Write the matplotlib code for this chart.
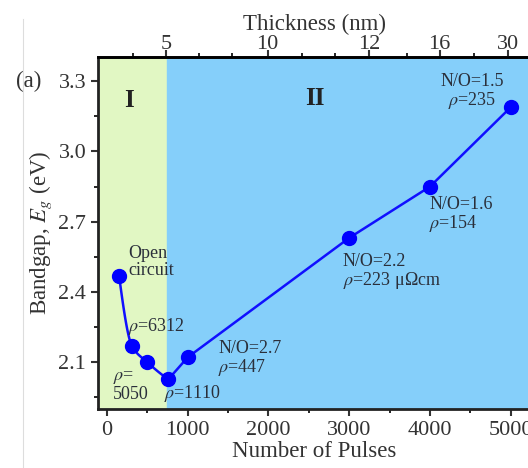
import matplotlib

matplotlib.use("Agg")

import matplotlib.pyplot as plt
import numpy as np
from matplotlib.lines import Line2D

plt.rcParams["font.family"] = ["Liberation Serif", "DejaVu Serif"]
plt.rcParams["mathtext.fontset"] = "stix"

# data
pulses = [150, 310, 500, 760, 1000, 3000, 4000, 5000]
bandgap = [2.469, 2.169, 2.10, 2.027, 2.121, 2.631, 2.85, 3.189]
n_curve = 4  # first points are joined by a smooth curve

thick_pos = [730, 1990, 3250, 4120, 4960]
thick_labels = ["5", "10", "12", "16", "30"]
thick_minor = [320, 1140, 1550, 2410, 2820, 3710, 4550]

region_edge = 740

notes = [
    ("Open\ncircuit", 265, 2.53, "left"),
    (r"$\rho$=6312", 265, 2.254, "left"),
    ("$\\rho$=\n5050", 75, 1.997, "left"),
    (r"$\rho$=1110", 710, 1.966, "left"),
    ("N/O=2.7\n$\\rho$=447", 1380, 2.113, "left"),
    ("N/O=2.2\n$\\rho$=223 \u03bc\u03a9cm", 2920, 2.486, "left"),
    ("N/O=1.6\n$\\rho$=154", 3990, 2.73, "left"),
    ("N/O=1.5\n$\\rho$=235", 4520, 3.253, "center"),
]


def pchip(x, y, xs):
    x = np.asarray(x, float)
    y = np.asarray(y, float)
    h = np.diff(x)
    d = np.diff(y) / h
    m = np.zeros_like(y)
    for k in range(1, len(x) - 1):
        if d[k - 1] * d[k] > 0:
            w1 = 2 * h[k] + h[k - 1]
            w2 = h[k] + 2 * h[k - 1]
            m[k] = (w1 + w2) / (w1 / d[k - 1] + w2 / d[k])
    m[0] = ((2 * h[0] + h[1]) * d[0] - h[0] * d[1]) / (h[0] + h[1])
    m[-1] = ((2 * h[-1] + h[-2]) * d[-1] - h[-1] * d[-2]) / (h[-1] + h[-2])
    idx = np.clip(np.searchsorted(x, xs) - 1, 0, len(x) - 2)
    t = (xs - x[idx]) / h[idx]
    h00 = 2 * t**3 - 3 * t**2 + 1
    h10 = t**3 - 2 * t**2 + t
    h01 = -2 * t**3 + 3 * t**2
    h11 = t**3 - t**2
    return h00 * y[idx] + h10 * h[idx] * m[idx] + h01 * y[idx + 1] + h11 * h[idx] * m[idx + 1]


fig = plt.figure(figsize=(5.28, 4.68), dpi=100)
ax = fig.add_axes([0.1856, 0.126, 0.82, 0.752])

xmin, xmax = -111, 5250
ymin, ymax = 1.90, 3.403
ax.set_xlim(xmin, xmax)
ax.set_ylim(ymin, ymax)

ax.axvspan(xmin, region_edge, color="#e1f7c3", zorder=0)
ax.axvspan(region_edge, xmax, color="#85cffa", zorder=0)

xs = np.linspace(pulses[0], pulses[n_curve - 1], 80)
curve_x = np.concatenate([xs, pulses[n_curve:]])
curve_y = np.concatenate([pchip(pulses[:n_curve], bandgap[:n_curve], xs), bandgap[n_curve:]])
ax.plot(curve_x, curve_y, color="#1010ff", lw=1.8, zorder=2)
ax.plot(pulses, bandgap, "o", color="#0000ff", ms=10, zorder=3)

for text, x, y, ha in notes:
    ax.text(x, y, text, fontsize=13, ha=ha, va="center", color="#2a2f3a", linespacing=1.0)

ax.text(270, 3.219, "I", fontsize=18, fontweight="bold", ha="center", va="center", color="#222222")
ax.text(2580, 3.228, "II", fontsize=18, fontweight="bold", ha="center", va="center", color="#222222")

ax.set_xticks([0, 1000, 2000, 3000, 4000, 5000])
ax.set_xticks([500, 1500, 2500, 3500, 4500], minor=True)
ax.set_yticks([2.1, 2.4, 2.7, 3.0, 3.3])
ax.set_yticks([1.95, 2.25, 2.55, 2.85, 3.15], minor=True)
ax.set_yticklabels(["2.1", "2.4", "2.7", "3.0", "3.3"])
ax.tick_params(axis="both", which="major", direction="out", length=5, width=1.5, labelsize=16, colors="#333333")
ax.tick_params(axis="both", which="minor", direction="out", length=3, width=1.2)
ax.set_xlabel("Number of Pulses", fontsize=16.5, color="#333333", labelpad=1)
ax.set_ylabel("Bandgap, $E_g$ (eV)", fontsize=16.5, color="#333333", labelpad=3)

for side in ("left", "bottom", "top"):
    ax.spines[side].set_linewidth(2)
    ax.spines[side].set_color("#222222")
ax.spines["right"].set_visible(False)

top = ax.twiny()
top.set_xlim(xmin, xmax)
top.set_xticks(thick_pos)
top.set_xticklabels(thick_labels)
top.set_xticks(thick_minor, minor=True)
top.tick_params(axis="x", which="major", direction="out", length=5, width=1.5, labelsize=16, pad=-3, colors="#333333")
top.tick_params(axis="x", which="minor", direction="out", length=3, width=1.2)
top.set_xlabel("Thickness (nm)", fontsize=16.5, color="#333333")
top.xaxis.set_label_coords(0.5, 1.078)
for side in ("left", "right", "bottom"):
    top.spines[side].set_visible(False)
top.spines["top"].set_linewidth(2)

fig.add_artist(Line2D([0.043, 0.043], [0.0, 0.96], color="#dddddd", lw=0.8))
fig.text(0.054, ax.transData.transform((0, 3.3))[1] / fig.bbox.height, "(a)", fontsize=16.5,
         ha="center", va="center", color="#333333")

fig.savefig("out.png", dpi=100)
